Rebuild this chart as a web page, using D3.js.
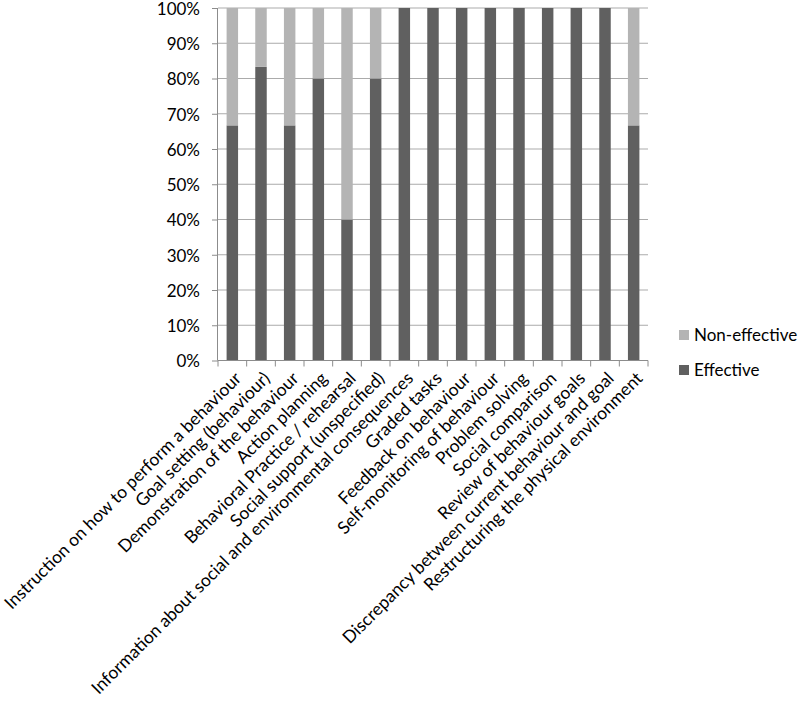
<!DOCTYPE html>
<html><head><meta charset="utf-8">
<script src="https://cdn.jsdelivr.net/npm/d3@7"></script>
<style>body{margin:0;background:#fff}svg{display:block}text{font-family:Lato,"Open Sans",sans-serif;fill:#000}</style>
</head><body>
<script>
const categories = [
  "Instruction on how to perform a behaviour",
  "Goal setting (behaviour)",
  "Demonstration of the behaviour",
  "Action planning",
  "Behavioral Practice / rehearsal",
  "Social support (unspecified)",
  "Information about social and environmental consequences",
  "Graded tasks",
  "Feedback on behaviour",
  "Self-monitoring of behaviour",
  "Problem solving",
  "Social comparison",
  "Review of behaviour goals",
  "Discrepancy between current behaviour and goal",
  "Restructuring the physical environment"
];
const effective = [66.7, 83.3, 66.7, 80, 40, 80, 100, 100, 100, 100, 100, 100, 100, 100, 66.7];
const nonEffective = [33.3, 16.7, 33.3, 20, 60, 20, 0, 0, 0, 0, 0, 0, 0, 0, 33.3];
const seriesNames = ["Effective", "Non-effective"];
const seriesColors = ["#606060", "#b4b4b4"];
const yTicks = [0,10,20,30,40,50,60,70,80,90,100];

const W = 800, H = 703;
const svg = d3.select("body").append("svg").attr("width", W).attr("height", H);
const pL = 218, pR = 648, pT = 8, pB = 360.5;

const x = d3.scaleBand().domain(categories).range([pL, pR]).paddingInner(0.6).paddingOuter(0.3);
const y = d3.scaleLinear().domain([0, 100]).range([pB, pT]);

// gridlines
svg.append("g").selectAll("line").data(yTicks.filter(t => t > 0)).join("line")
  .attr("x1", pL).attr("x2", pR)
  .attr("y1", d => y(d)).attr("y2", d => y(d))
  .attr("stroke", "#ababab").attr("stroke-width", 1);

// stacked bars
const rows = categories.map((c, i) => ({cat: c, Effective: effective[i], "Non-effective": nonEffective[i]}));
const stack = d3.stack().keys(seriesNames)(rows);
svg.append("g").selectAll("g").data(stack).join("g")
  .attr("fill", (d, i) => seriesColors[i])
  .selectAll("rect").data(d => d).join("rect")
  .attr("x", d => x(d.data.cat))
  .attr("width", x.bandwidth())
  .attr("y", d => y(d[1]))
  .attr("height", d => y(d[0]) - y(d[1]));

// y axis
const yAxis = d3.axisLeft(y).tickValues(yTicks).tickFormat(d => d + "%").tickSize(6).tickPadding(12);
const gy = svg.append("g").attr("transform", `translate(${pL},0)`).call(yAxis);
gy.select(".domain").attr("stroke", "#8c8c8c").attr("d", `M-0.5,${pT}V${pB}`);
gy.selectAll(".tick line").attr("stroke", "#8c8c8c");
gy.selectAll(".tick text").style("font-size", "17px").style("font-family", "Lato,'Open Sans',sans-serif").attr("fill", "#000").attr("dy", "0.38em");

// x axis
const gx = svg.append("g").attr("transform", `translate(0,${pB})`);
gx.append("line").attr("x1", pL).attr("x2", pR).attr("y1", 0).attr("y2", 0).attr("stroke", "#8c8c8c");
const bounds = d3.range(categories.length + 1).map(i => pL + i * (pR - pL) / categories.length);
gx.selectAll("line.tk").data(bounds).join("line").attr("class", "tk")
  .attr("x1", d => d).attr("x2", d => d).attr("y1", 0).attr("y2", 6).attr("stroke", "#8c8c8c");
gx.selectAll("text").data(categories).join("text")
  .attr("transform", d => `translate(${x(d) + x.bandwidth() / 2 + 10},${19}) rotate(-45)`)
  .attr("text-anchor", "end")
  .style("font-size", "17.5px")
  .text(d => d);

// legend
const legendItems = [{name: "Non-effective", color: seriesColors[1]}, {name: "Effective", color: seriesColors[0]}];
const lg = svg.append("g");
legendItems.forEach((it, i) => {
  const yy = 335 + i * 35;
  lg.append("rect").attr("x", 679).attr("y", yy - 5).attr("width", 10).attr("height", 10).attr("fill", it.color);
  lg.append("text").attr("x", 694).attr("y", yy).attr("dy", "0.35em").style("font-size", "17px").text(it.name);
});
</script>
</body></html>
